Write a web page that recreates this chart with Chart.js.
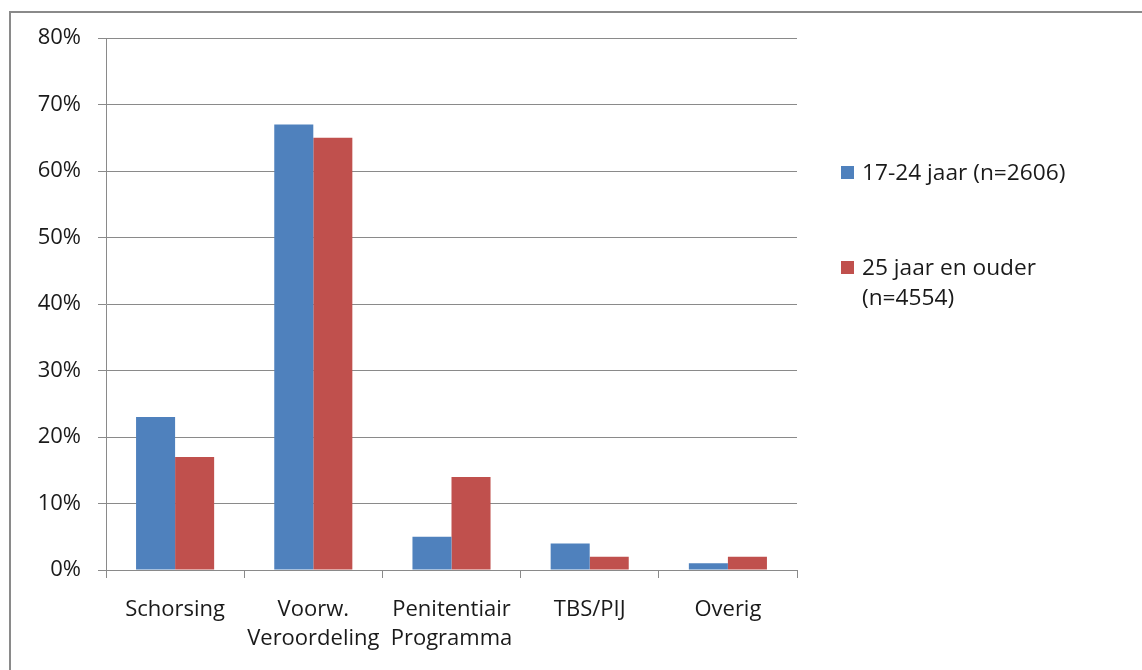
<!DOCTYPE html>
<html>
<head>
<meta charset="utf-8">
<script src="https://cdn.jsdelivr.net/npm/chart.js@4.4.0/dist/chart.umd.min.js"></script>
<style>
  html, body { margin: 0; padding: 0; background: #fff; }
  #wrap { position: relative; width: 1142px; height: 670px; overflow: hidden; }
  #frame { position: absolute; left: 9px; top: 11px; width: 1200px; height: 700px; border-left: 2px solid #8a8a8a; border-top: 2px solid #8a8a8a; box-sizing: border-box; }
  canvas { position: absolute; left: 0; top: 0; }
  .leg { position: absolute; font-family: "Open Sans", Lato, sans-serif; font-size: 22.7px; color: #1a1a1a; line-height: 30px; white-space: nowrap; }
  .sw { position: absolute; width: 13px; height: 13px; }
</style>
</head>
<body>
<div id="wrap">
  <div id="frame"></div>
  <canvas id="c" width="1142" height="670"></canvas>
  <div id="legend"></div>
</div>
<script>
const categories = [["Schorsing"], ["Voorw.", "Veroordeling"], ["Penitentiair", "Programma"], ["TBS/PIJ"], ["Overig"]];
const seriesNames = [["17-24 jaar (n=2606)"], ["25 jaar en ouder", "(n=4554)"]];
const youngValues = [23, 67, 5, 4, 1];
const olderValues = [17, 65, 14, 2, 2];
const yTicks = [0, 10, 20, 30, 40, 50, 60, 70, 80];
const colors = ["#4F81BD", "#C0504D"];

const FONT = "'Open Sans', Lato, sans-serif";

new Chart(document.getElementById('c'), {
  type: 'bar',
  data: {
    labels: categories,
    datasets: [
      { label: seriesNames[0].join(' '), data: youngValues, backgroundColor: colors[0] },
      { label: seriesNames[1].join(' '), data: olderValues, backgroundColor: colors[1] }
    ]
  },
  options: {
    responsive: false,
    animation: false,
    devicePixelRatio: 1,
    layout: { padding: { left: 0, top: 38, right: 345, bottom: 0 } },
    plugins: { legend: { display: false }, tooltip: { enabled: false } },
    datasets: { bar: { categoryPercentage: 0.565, barPercentage: 1.0 } },
    scales: {
      x: {
        afterFit: s => { s.height = 100; },
        grid: { offset: true, drawOnChartArea: false, drawTicks: true, tickLength: 8, color: '#8a8a8a' },
        border: { display: true, color: '#8a8a8a' },
        ticks: { font: { family: FONT, size: 22, lineHeight: 1.28 }, color: '#1a1a1a', padding: 18, maxRotation: 0, autoSkip: false }
      },
      y: {
        min: 0, max: 80,
        afterFit: s => { s.width = 106; },
        afterBuildTicks: s => { s.ticks = yTicks.map(v => ({ value: v })); },
        grid: { color: '#8a8a8a', tickLength: 8 },
        border: { display: true, color: '#8a8a8a' },
        ticks: { font: { family: FONT, size: 22 }, color: '#1a1a1a', padding: 17, callback: v => v + '%' }
      }
    }
  }
});

const leg = document.getElementById('legend');
const tops = [157, 252];
seriesNames.forEach((lines, i) => {
  const sw = document.createElement('div');
  sw.className = 'sw';
  sw.style.left = '841px';
  sw.style.top = (tops[i] + 9) + 'px';
  sw.style.background = colors[i];
  leg.appendChild(sw);
  const t = document.createElement('div');
  t.className = 'leg';
  t.style.left = '862px';
  t.style.top = tops[i] + 'px';
  t.innerHTML = lines.join('<br>');
  leg.appendChild(t);
});
</script>
</body>
</html>
